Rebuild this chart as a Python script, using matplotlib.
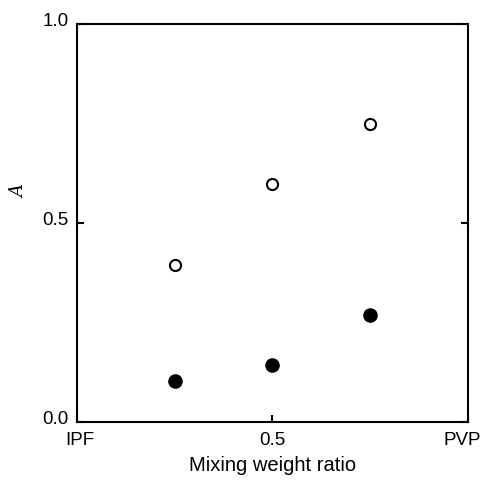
import numpy as np
import matplotlib.pyplot as plt
import matplotlib.transforms as mtransforms

plt.rcParams['font.family'] = 'Liberation Sans'
plt.rcParams.update({'font.size': 13.5})

# data
ratio = [0.25, 0.5, 0.75]
a_open = [0.394, 0.598, 0.749]
a_filled = [0.103, 0.143, 0.269]
xtick_pos = [0.0, 0.5, 1.0]
xtick_lab = ['IPF', '0.5', 'PVP']
ytick_pos = [0.0, 0.5, 1.0]
ytick_lab = ['0.0', '0.5', '1.0']

fig = plt.figure(figsize=(4.85, 4.8), dpi=100)
ax = fig.add_axes([77 / 485, 1 - 422 / 480, 391 / 485, 398 / 480])

ax.plot(ratio, a_open, 'o', ms=8, mfc='white', mec='black', mew=1.5)
ax.plot(ratio, a_filled, 'o', ms=10.5, mfc='black', mew=0)

ax.set_xlim(0, 1)
ax.set_ylim(0, 1)
ax.set_xticks(xtick_pos)
ax.set_xticklabels(xtick_lab)
ax.set_yticks(ytick_pos)
ax.set_yticklabels(ytick_lab)
ax.tick_params(direction='in', length=5, width=1.5, right=True)
ax.tick_params(axis='x', pad=7)
ax.tick_params(axis='y', pad=6)
for s in ax.spines.values():
    s.set_linewidth(1.5)

# small nudges of tick labels, as in the original
for lab in ax.get_yticklabels():
    lab.set_transform(lab.get_transform() + mtransforms.ScaledTranslation(0, 3 / 72, fig.dpi_scale_trans))
xl = ax.get_xticklabels()
xl[0].set_transform(xl[0].get_transform() + mtransforms.ScaledTranslation(2 / 72, 0, fig.dpi_scale_trans))
xl[2].set_transform(xl[2].get_transform() + mtransforms.ScaledTranslation(-4 / 72, 0, fig.dpi_scale_trans))

ax.set_xlabel('Mixing weight ratio', fontsize=14.5, labelpad=5)
ax.set_ylabel('A', family='DejaVu Serif', style='italic', fontsize=13)
ax.yaxis.set_label_coords(-0.125, 0.578)

plt.savefig('out.png', dpi=100)
